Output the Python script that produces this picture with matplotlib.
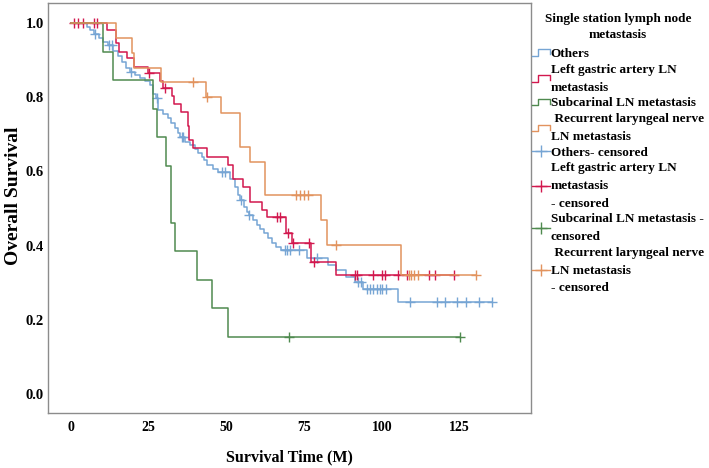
import matplotlib
matplotlib.use("Agg")
import matplotlib.pyplot as plt
import numpy as np
from matplotlib.lines import Line2D
from matplotlib.legend_handler import HandlerBase

plt.rcParams['font.family'] = ['Liberation Serif', 'DejaVu Serif']
plt.rcParams['font.weight'] = 'bold'

# step curves: drop times (months) and survival level after each drop
others_t = [5.0, 6.1, 7.4, 9.0, 10.3, 11.9, 13.5, 15.1, 16.4, 17.7, 19.0, 20.6, 22.2, 23.8, 25.4,
            26.5, 27.2, 28.1, 29.6, 31.2, 32.2, 33.3, 34.4, 35.0, 36.7, 38.3, 39.9, 40.9, 42.1,
            42.8, 43.6, 45.8, 47.4, 51.1, 52.7, 53.8, 54.3, 55.6, 56.6, 57.2, 58.6, 59.8, 60.8,
            62.1, 63.4, 64.8, 66.1, 67.5, 75.8, 82.7, 85.4, 88.6, 91.3, 94.0, 105.2]
others_s = [0.99, 0.98, 0.97, 0.96, 0.95, 0.94, 0.925, 0.91, 0.895, 0.88, 0.869, 0.86, 0.852, 0.843,
            0.834, 0.81, 0.797, 0.765, 0.755, 0.743, 0.73, 0.717, 0.705, 0.692, 0.68, 0.671, 0.66,
            0.649, 0.64, 0.631, 0.617, 0.608, 0.599, 0.581, 0.559, 0.536, 0.523, 0.505, 0.49, 0.482,
            0.469, 0.457, 0.446, 0.433, 0.42, 0.408, 0.397, 0.388, 0.366, 0.348, 0.334, 0.315,
            0.303, 0.283, 0.249]
others_c = [7.7, 12.2, 13.1, 19.3, 27.6, 35.6, 36.1, 48.5, 49.5, 54.6, 57.3, 68.8, 69.6, 70.4, 73.4,
            79.0, 92.4, 93.3, 95.1, 96.1, 97.2, 98.3, 99.3, 100.2, 101.2, 109.2, 117.9, 120.3,
            124.3, 127.2, 131.2, 135.5]

lga_t = [11.5, 14.5, 15.5, 17.9, 20.3, 24.9, 28.6, 29.7, 32.4, 33.0, 35.4, 37.5, 38.0, 39.3, 43.6,
         50.4, 52.2, 55.4, 57.6, 61.3, 62.9, 69.3, 71.0, 77.1, 85.4]
lga_s = [0.981, 0.945, 0.922, 0.905, 0.882, 0.866, 0.844, 0.824, 0.803, 0.783, 0.761, 0.722, 0.685,
         0.662, 0.64, 0.617, 0.579, 0.559, 0.518, 0.496, 0.478, 0.435, 0.408, 0.355, 0.32]
lga_c = [1.0, 2.3, 3.8, 7.3, 8.3, 25.2, 30.3, 66.3, 67.2, 69.9, 71.4, 76.5, 78.1, 91.3, 92.1, 97.2,
         100.2, 101.0, 105.3, 108.0, 115.2, 117.1, 123.2]

sub_t = [10.4, 13.5, 26.4, 27.7, 30.5, 32.2, 33.4, 40.5, 45.3, 50.5]
sub_s = [0.923, 0.846, 0.769, 0.692, 0.615, 0.462, 0.385, 0.308, 0.231, 0.154]
sub_c = [70.1, 125.0]

rln_t = [14.5, 19.5, 20.3, 29.0, 43.3, 48.4, 54.5, 57.6, 62.4, 80.3, 82.2, 106.3]
rln_s = [0.96, 0.92, 0.88, 0.84, 0.80, 0.757, 0.667, 0.626, 0.536, 0.469, 0.402, 0.321]
rln_c = [39.3, 43.6, 72.5, 73.8, 75.0, 76.3, 85.4, 108.6, 109.5, 110.5, 111.6, 130.2]

groups = ["Others", "Left gastric artery LN\nmetastasis", "Subcarinal LN metastasis",
          " Recurrent laryngeal nerve\nLN metastasis"]
cens_labels = ["Others- censored", "Left gastric artery LN\nmetastasis\n- censored",
               "Subcarinal LN metastasis -\ncensored",
               " Recurrent laryngeal nerve\nLN metastasis\n- censored"]
colors = ["#76a5d4", "#d2184e", "#4f8a4f", "#e2935e"]

data = [(others_t, others_s, others_c), (lga_t, lga_s, lga_c),
        (sub_t, sub_s, sub_c), (rln_t, rln_s, rln_c)]

fig = plt.figure(figsize=(7.09, 4.68), dpi=100)
ax = fig.add_axes([0.0677, 0.1175, 0.6813, 0.876])

for (t, s, c), col in zip(data, colors):
    end = max(c[-1], t[-1])
    xs = np.array([0.0] + list(t) + [end])
    ys = np.array([1.0] + list(s) + [s[-1]])
    ax.step(xs, ys, where="post", color=col, lw=1.1)
    idx = np.searchsorted(xs, np.array(c), side="right") - 1
    ax.plot(c, ys[idx], ls="none", marker="+", ms=7, mew=1.0, color=col)

ax.set_xlim(-7.4, 148)
ax.set_ylim(-0.051, 1.054)
ax.set_xticks([0, 25, 50, 75, 100, 125])
ax.set_yticks([0.0, 0.2, 0.4, 0.6, 0.8, 1.0])
ax.set_yticklabels(["0.0", "0.2", "0.4", "0.6", "0.8", "1.0"])
ax.tick_params(axis="y", length=0, labelsize=10.5, pad=3)
ax.tick_params(axis="x", length=0, labelsize=10, pad=6)
for sp in ax.spines.values():
    sp.set_color("#8c8c8c")
    sp.set_linewidth(1.0)
ax.set_xlabel("Survival Time (M)", fontsize=11.5, fontweight="bold", labelpad=11)
ax.set_ylabel("Overall Survival", fontsize=14, fontweight="bold")
ax.yaxis.set_label_coords(-0.054, 0.529)


class StepHandler(HandlerBase):
    def create_artists(self, legend, orig_handle, xdescent, ydescent, width, height, fontsize, trans):
        w, h = width, height
        xs = [-xdescent, 0.35 * w, 0.35 * w, w, w]
        ys = [0.15 * h, 0.15 * h, 0.85 * h, 0.85 * h, 0.3 * h]
        ln = Line2D(xs, ys, color=orig_handle.get_color(), lw=1.0, transform=trans)
        return [ln]


step_handles = [Line2D([], [], color=col) for col in colors]
cens_handles = [Line2D([], [], color=col, marker="+", ms=9, mew=1.0, lw=1.0) for col in colors]
hmap = {h: StepHandler() for h in step_handles}
leg = ax.legend(step_handles + cens_handles, groups + cens_labels, handler_map=hmap,
                loc="upper left", bbox_to_anchor=(1.0, 0.978), frameon=False,
                title="Single station lymph node\nmetastasis",
                prop={"family": "Liberation Serif", "weight": "bold", "size": 9.5},
                title_fontproperties={"family": "Liberation Serif", "weight": "bold", "size": 9.5},
                handlelength=1.3, handletextpad=0.1, labelspacing=0.28, borderpad=0.0,
                borderaxespad=0.1, numpoints=1)
leg._legend_box.align = "center"
leg._legend_box.sep = 5
leg.get_title().set_multialignment("center")
leg.get_title().set_linespacing(1.4)
for txt in leg.get_texts():
    txt.set_multialignment("left")
    txt.set_linespacing(1.63)

fig.savefig("out.png", dpi=100)
